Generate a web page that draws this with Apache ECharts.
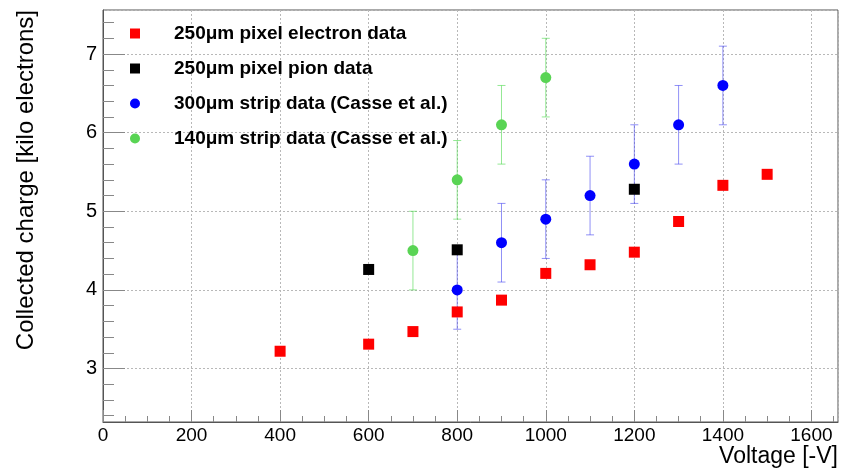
<!DOCTYPE html>
<html>
<head>
<meta charset="utf-8">
<script src="https://cdn.jsdelivr.net/npm/echarts@6/dist/echarts.min.js"></script>
<style>
  html, body { margin: 0; padding: 0; background: #fff; }
  #chart { width: 848px; height: 470px; }
</style>
</head>
<body>
<div id="chart"></div>
<script>
// Collected charge vs. bias voltage
const electronVoltage = [400, 600, 700, 800, 900, 1000, 1100, 1200, 1300, 1400, 1500];
const electronCharge  = [3.22, 3.31, 3.47, 3.72, 3.87, 4.21, 4.32, 4.48, 4.87, 5.33, 5.47];

const pionVoltage = [600, 800, 1200];
const pionCharge  = [4.26, 4.51, 5.28];

const strip300Voltage = [800, 900, 1000, 1100, 1200, 1300, 1400];
const strip300Charge  = [4.0, 4.6, 4.9, 5.2, 5.6, 6.1, 6.6];
const strip300Error   = [0.5, 0.5, 0.5, 0.5, 0.5, 0.5, 0.5];

const strip140Voltage = [700, 800, 900, 1000];
const strip140Charge  = [4.5, 5.4, 6.1, 6.7];
const strip140Error   = [0.5, 0.5, 0.5, 0.5];

const seriesNames = [
  '250\u03bcm pixel electron data',
  '250\u03bcm pixel pion data',
  '300\u03bcm strip data (Casse et al.)',
  '140\u03bcm strip data (Casse et al.)'
];

// Axis ranges
const X_MIN = 0, X_MAX = 1660, X_MAJOR = 200, X_MINOR = 50, X_MINOR_END = 1650;
const Y_MIN = 2.32, Y_MAX = 7.56, Y_MINOR = 0.2, Y_MINOR_START = 2.4, Y_MINOR_END = 7.4;

const FONT = '"Liberation Sans", Arial, Helvetica, sans-serif';
const WIDTH = 848, HEIGHT = 470;
const plot = { left: 103, right: 10, top: 10, bottom: 48 };
const plotW = WIDTH - plot.left - plot.right;
const plotH = HEIGHT - plot.top - plot.bottom;

// Second grid carrying only the minor ticks, laid out on the same scale
const xPx = plotW / (X_MAX - X_MIN);
const yPx = plotH / (Y_MAX - Y_MIN);
const minorGrid = {
  left: plot.left + (0 - X_MIN) * xPx,
  width: (X_MINOR_END - X_MIN) * xPx,
  top: plot.top + (Y_MAX - Y_MINOR_END) * yPx,
  height: (Y_MINOR_END - Y_MINOR_START) * yPx
};
const minorXOffset = (plot.top + plotH) - (minorGrid.top + minorGrid.height);

const frameColor = '#555';
const tickColor = '#888';
const gridLine = { show: true, lineStyle: { color: '#b8b8b8', type: [2, 2], width: 1 } };

function toErrorRows(xs, ys, es) {
  return xs.map((x, i) => [x, ys[i] - es[i], ys[i] + es[i]]);
}

function errorBars(color) {
  return function (params, api) {
    const x = api.value(0);
    const top = api.coord([x, api.value(2)]);
    const bot = api.coord([x, api.value(1)]);
    const cap = 4;
    const style = { stroke: color, lineWidth: 1 };
    return {
      type: 'group',
      children: [
        { type: 'line', shape: { x1: top[0], y1: top[1], x2: bot[0], y2: bot[1] }, style },
        { type: 'line', shape: { x1: top[0] - cap, y1: top[1], x2: top[0] + cap, y2: top[1] }, style },
        { type: 'line', shape: { x1: bot[0] - cap, y1: bot[1], x2: bot[0] + cap, y2: bot[1] }, style }
      ]
    };
  };
}

const zip = (xs, ys) => xs.map((x, i) => [x, ys[i]]);
const plainNumber = v => String(v);

const chart = echarts.init(document.getElementById('chart'), null, { renderer: 'canvas' });

chart.setOption({
  animation: false,
  backgroundColor: '#fff',
  textStyle: { fontFamily: FONT },
  grid: [
    { left: plot.left, right: plot.right, top: plot.top, bottom: plot.bottom,
      show: true, borderColor: frameColor, borderWidth: 1, backgroundColor: 'transparent' },
    { left: minorGrid.left, width: minorGrid.width, top: minorGrid.top, height: minorGrid.height, show: false }
  ],
  xAxis: [
    {
      type: 'value', gridIndex: 0, min: X_MIN, max: X_MAX, interval: X_MAJOR,
      axisLine: { show: true, onZero: false, lineStyle: { color: frameColor } },
      axisTick: { show: true, inside: true, length: 12, lineStyle: { color: tickColor } },
      axisLabel: { show: true, showMaxLabel: false, color: '#000', fontSize: 19, margin: 4,
                   fontFamily: FONT, formatter: plainNumber },
      splitLine: gridLine
    },
    {
      type: 'value', gridIndex: 1, min: X_MIN, max: X_MINOR_END, interval: X_MINOR,
      offset: minorXOffset,
      axisLine: { show: false, onZero: false },
      axisTick: { show: true, inside: true, length: 6, lineStyle: { color: tickColor } },
      axisLabel: { show: false },
      splitLine: { show: false }
    }
  ],
  yAxis: [
    {
      type: 'value', gridIndex: 0, min: Y_MIN, max: Y_MAX, minInterval: 1, maxInterval: 1,
      axisLine: { show: true, onZero: false, lineStyle: { color: frameColor } },
      axisTick: { show: true, inside: true, length: 22, lineStyle: { color: tickColor } },
      axisLabel: { show: true, showMinLabel: false, showMaxLabel: false, color: '#000', fontSize: 20,
                   margin: 6, fontFamily: FONT, formatter: plainNumber },
      splitLine: gridLine
    },
    {
      type: 'value', gridIndex: 1, min: Y_MINOR_START, max: Y_MINOR_END, interval: Y_MINOR,
      axisLine: { show: false, onZero: false },
      axisTick: { show: true, inside: true, length: 11, lineStyle: { color: tickColor } },
      axisLabel: { show: false },
      splitLine: { show: false }
    }
  ],
  legend: {
    orient: 'vertical',
    left: 125,
    top: 19,
    itemWidth: 10,
    itemHeight: 10,
    itemGap: 16,
    selectedMode: false,
    textStyle: { fontSize: 19, fontWeight: 'bold', color: '#000', fontFamily: FONT, padding: [0, 0, 0, 29] },
    data: [
      { name: seriesNames[0], icon: 'rect' },
      { name: seriesNames[1], icon: 'rect' },
      { name: seriesNames[2], icon: 'circle' },
      { name: seriesNames[3], icon: 'circle' }
    ]
  },
  graphic: [
    {
      type: 'text', x: 26, y: 10, rotation: Math.PI / 2, silent: true,
      style: { text: 'Collected charge [kilo electrons]', font: '24px ' + FONT, fill: '#000',
               align: 'right', verticalAlign: 'middle', textAlign: 'right', textVerticalAlign: 'middle' }
    },
    {
      type: 'text', x: WIDTH - plot.right, y: 457, silent: true,
      style: { text: 'Voltage [-V]', font: '23px ' + FONT, fill: '#000',
               align: 'right', verticalAlign: 'middle', textAlign: 'right', textVerticalAlign: 'middle' }
    }
  ],
  series: [
    {
      type: 'custom', name: 'err300', xAxisIndex: 0, yAxisIndex: 0, z: 1,
      renderItem: errorBars('rgba(70, 70, 240, 0.6)'),
      encode: { x: 0, y: [1, 2] },
      data: toErrorRows(strip300Voltage, strip300Charge, strip300Error)
    },
    {
      type: 'custom', name: 'err140', xAxisIndex: 0, yAxisIndex: 0, z: 1,
      renderItem: errorBars('rgba(90, 220, 90, 0.65)'),
      encode: { x: 0, y: [1, 2] },
      data: toErrorRows(strip140Voltage, strip140Charge, strip140Error)
    },
    {
      type: 'scatter', name: seriesNames[0], xAxisIndex: 0, yAxisIndex: 0, z: 3,
      symbol: 'rect', symbolSize: 11, itemStyle: { color: '#ff0000', opacity: 1 },
      data: zip(electronVoltage, electronCharge)
    },
    {
      type: 'scatter', name: seriesNames[1], xAxisIndex: 0, yAxisIndex: 0, z: 3,
      symbol: 'rect', symbolSize: 11, itemStyle: { color: '#000000', opacity: 1 },
      data: zip(pionVoltage, pionCharge)
    },
    {
      type: 'scatter', name: seriesNames[2], xAxisIndex: 0, yAxisIndex: 0, z: 3,
      symbol: 'circle', symbolSize: 11, itemStyle: { color: '#0000ff', opacity: 1 },
      data: zip(strip300Voltage, strip300Charge)
    },
    {
      type: 'scatter', name: seriesNames[3], xAxisIndex: 0, yAxisIndex: 0, z: 3,
      symbol: 'circle', symbolSize: 11, itemStyle: { color: '#59d454', opacity: 1 },
      data: zip(strip140Voltage, strip140Charge)
    }
  ]
});
</script>
</body>
</html>
